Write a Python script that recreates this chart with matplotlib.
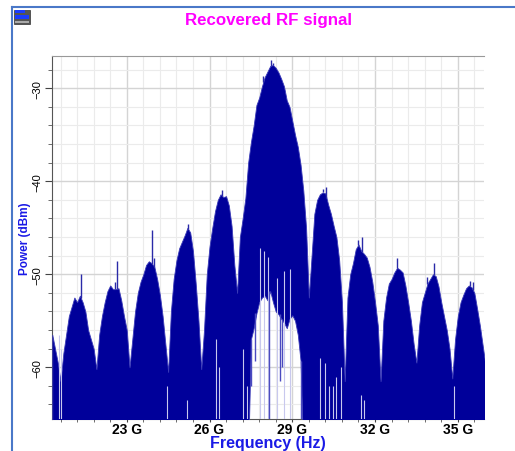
import numpy as np
import matplotlib
matplotlib.use('Agg')
import matplotlib.pyplot as plt
from matplotlib.ticker import FixedLocator, MultipleLocator, FuncFormatter
from matplotlib.patches import Rectangle
from matplotlib.lines import Line2D

plt.rcParams['font.family'] = ['Liberation Sans', 'DejaVu Sans']

# Espectro RF recuperado: nivel máximo (dBm) por cada bin de 0.1 GHz
freq = np.round(np.arange(20.3, 36.05, 0.1), 1)
top = np.array([
    -56.5, -58.0, -59.5, -61.5, -58.5, -56.5, -54.5, -53.5, -52.5, -53.0,   # 20.3 - 21.2
    -52.3, -53.0, -54.0, -56.0, -57.0, -58.0, -60.2, -56.5, -54.5, -53.0,   # 21.3 - 22.2
    -51.8, -51.2, -51.6, -51.6, -51.5, -52.8, -54.5, -56.0, -60.0, -57.0,   # 22.3 - 23.2
    -54.0, -52.0, -50.8, -50.0, -49.0, -48.6, -48.8, -49.2, -50.5, -52.2,   # 23.3 - 24.2
    -54.5, -57.5, -60.5, -54.0, -50.5, -48.5, -47.2, -46.5, -45.8, -45.0,   # 24.3 - 25.2
    -45.5, -47.5, -51.0, -55.0, -60.2, -56.0, -50.0, -47.0, -45.0, -43.2,   # 25.3 - 26.2
    -42.0, -41.4, -41.7, -41.6, -42.6, -44.8, -49.0, -52.0, -46.0, -44.0,   # 26.3 - 27.2
    -41.8, -38.0, -35.8, -34.0, -31.8, -31.0, -29.8, -28.8, -28.2, -27.6,   # 27.3 - 28.2
    -27.5, -27.8, -28.3, -29.0, -29.8, -31.3, -32.0, -33.5, -35.0, -36.3,   # 28.3 - 29.2
    -38.2, -41.0, -45.0, -52.5, -48.0, -43.5, -42.0, -41.4, -41.2, -41.3,   # 29.3 - 30.2
    -42.5, -43.5, -44.8, -46.0, -48.5, -53.0, -61.5, -52.5, -50.0, -48.8,   # 30.3 - 31.2
    -47.3, -46.8, -47.5, -47.8, -48.2, -49.2, -50.8, -53.0, -55.5, -61.5,   # 31.3 - 32.2
    -55.0, -52.5, -51.0, -50.5, -49.8, -49.3, -49.5, -49.8, -51.2, -53.0,   # 32.3 - 33.2
    -55.0, -57.5, -59.5, -55.5, -53.0, -52.0, -51.0, -50.5, -50.0, -50.2,   # 33.3 - 34.2
    -51.3, -53.0, -54.5, -56.0, -58.0, -61.2, -57.0, -54.5, -53.0, -52.2,   # 34.3 - 35.2
    -51.5, -51.2, -51.4, -52.0, -53.7, -55.5, -57.6, -59.7,                 # 35.3 - 36.0
])
if len(top) != len(freq):
    raise ValueError(f"{len(top)} niveles para {len(freq)} bins")

# Picos finos que sobresalen de la envolvente (frecuencia, nivel)
peak_freq = [21.34, 22.56, 22.64, 23.93, 24.0, 25.22, 26.45, 27.95, 28.23,
             28.3, 30.1, 30.24, 31.4, 31.53, 32.8, 33.9, 34.13, 35.45, 35.55]
peak_level = [-50.0, -50.8, -48.6, -45.2, -48.3, -44.6, -40.9, -28.7, -27.0,
              -27.3, -40.8, -40.6, -46.3, -46.0, -48.3, -50.3, -48.8, -50.7, -50.8]

# Hueco bajo el lóbulo central: nivel mínimo de la traza (27.4 - 29.4 GHz)
hole_freq = np.round(np.arange(27.4, 29.45, 0.1), 1)
hole_low = np.array([
    -70.0, -57.0, -55.8, -54.2, -53.0, -52.5, -52.3, -52.8, -51.8, -53.0,
    -54.0, -54.3, -54.8, -55.2, -55.8, -54.8, -54.4, -55.0, -56.5, -59.3,
    -70.0,
])

# Picos aislados que bajan dentro del hueco (frecuencia, nivel inferior)
spike_freq = [27.52, 27.66, 28.17, 28.55, 28.62, 29.33]
spike_low = [-62.0, -59.3, -70.0, -61.5, -60.0, -70.0]

# Muescas claras que suben desde abajo (frecuencia, nivel superior)
notch_freq = [20.55, 20.62, 24.45, 25.18, 26.25, 26.35, 27.2, 27.36,
              27.84, 27.96, 28.13, 28.45, 28.7, 28.9,
              30.0, 30.18, 30.33, 30.48, 30.6, 30.77, 31.48, 31.6, 34.85]
notch_high = [-56.5, -58.0, -62.0, -63.5, -57.0, -60.0, -58.0, -62.0,
              -47.2, -47.5, -48.1, -50.4, -49.7, -49.4,
              -59.0, -59.5, -62.0, -62.0, -61.0, -60.0, -63.0, -63.5, -62.0]

x_ticks = [23, 26, 29, 32, 35]
y_ticks = [-60, -50, -40, -30]

trace_color = '#00009a'
label_color = '#1a1ae6'

floor = -70.0
bottom = np.full_like(top, floor)
for f, lo in zip(hole_freq, hole_low):
    bottom[np.isclose(freq, f)] = lo

fig = plt.figure(figsize=(5.15, 4.52), dpi=100)
ax = fig.add_axes([52 / 515, 32 / 452, 432 / 515, 363 / 452])

ax.fill_between(freq, bottom, top, color=trace_color, lw=0.6,
                edgecolor='#3a3ab8', zorder=3)
for f, lv in zip(peak_freq, peak_level):
    base = np.interp(f, freq, top)
    ax.vlines(f, base, lv, color='#2a2aa8', lw=1.0, zorder=3)
ax.vlines(notch_freq, floor, notch_high, color='#c8c8ee', lw=0.8, zorder=4)
for f, lo in zip(spike_freq, spike_low):
    hi = bottom[np.argmin(np.abs(freq - f))]
    ax.vlines(f, lo, hi, color='#4a4ac0', lw=1.0, zorder=4)

ax.set_xlim(20.29, 35.95)
ax.set_ylim(-65.56, -26.53)

ax.xaxis.set_major_locator(FixedLocator(x_ticks))
ax.xaxis.set_minor_locator(FixedLocator(np.arange(20.6, 36.0, 0.6)))
ax.xaxis.set_major_formatter(FuncFormatter(lambda v, p: f"{v:g} G"))
ax.yaxis.set_major_locator(FixedLocator(y_ticks))
ax.yaxis.set_minor_locator(MultipleLocator(2))

ax.grid(which='major', color='#d4d4d4', lw=1.0, zorder=0)
ax.grid(which='minor', color='#ebebeb', lw=0.8, zorder=0)
ax.set_axisbelow(True)

ax.tick_params(axis='x', which='major', length=2, width=0.8, labelsize=10,
               pad=0, colors='#444444', labelcolor='black')
ax.tick_params(axis='x', which='minor', length=2, width=0.6, colors='#555555')
ax.tick_params(axis='y', which='major', length=5, width=0.8, labelsize=8,
               pad=2, colors='#444444', labelcolor='black', labelrotation=90)
ax.tick_params(axis='y', which='minor', length=3, width=0.6, colors='#555555')
for lab in ax.get_xticklabels():
    lab.set_fontweight('bold')
for lab in ax.get_yticklabels():
    lab.set_va('center')

ax.spines['right'].set_visible(False)
ax.spines['top'].set_linestyle((0, (1, 1)))
ax.spines['top'].set_color('#999999')
ax.spines['top'].set_linewidth(0.8)
ax.spines['left'].set_color('#555555')
ax.spines['bottom'].set_color('#555555')

# Etiqueta del eje x con la línea base fija justo encima del borde inferior
xlab = ax.set_xlabel('Frequency (Hz)', color=label_color, fontsize=11.5,
                     fontweight='bold')
xlab.set_va('baseline')
ax.xaxis.set_label_coords(0.5, -28 / 363)
ax.set_ylabel('Power (dBm)', color=label_color, fontsize=8.5,
              fontweight='bold', labelpad=1)
fig.text(269 / 515, 1 - 20 / 452, 'Recovered RF signal', color='#ff00ff',
         fontsize=12.2, fontweight='bold', ha='center', va='center')

# Marco de la ventana e icono
fig.add_artist(Line2D([12 / 515, 1], [1 - 8 / 452] * 2, color='#4a78c8', lw=1.5))
fig.add_artist(Line2D([12 / 515] * 2, [0, 1 - 8 / 452], color='#4a78c8', lw=1.5))
W, H = 515, 452
fig.add_artist(Rectangle((14 / W, 1 - 25 / H), 16 / W, 14 / H, facecolor='#555555',
                         edgecolor='#333333', lw=0.5, transform=fig.transFigure))
fig.add_artist(Rectangle((15 / W, 1 - 14 / H), 10 / W, 3 / H, facecolor='#1a3cff',
                         lw=0, transform=fig.transFigure))
fig.add_artist(Rectangle((15 / W, 1 - 20 / H), 14 / W, 4 / H, facecolor='#1a3cff',
                         lw=0, transform=fig.transFigure))
fig.add_artist(Rectangle((15 / W, 1 - 24 / H), 14 / W, 2 / H, facecolor='#aaaaaa',
                         lw=0, transform=fig.transFigure))

fig.savefig('out.png', dpi=100)
